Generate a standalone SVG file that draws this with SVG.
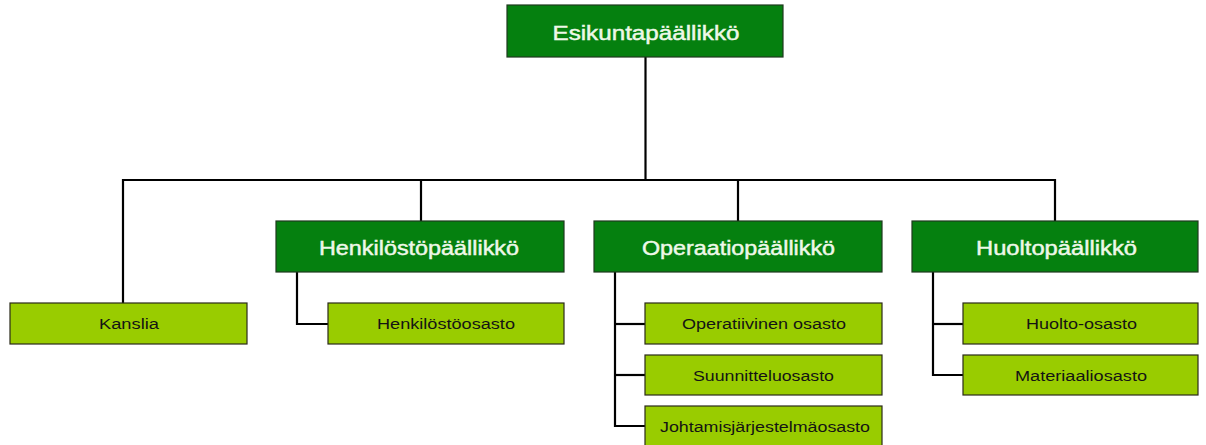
<svg xmlns="http://www.w3.org/2000/svg" width="1206" height="445" viewBox="0 0 1206 445">
  <style>
    .head rect { fill: #05800f; stroke: #1f3a1f; stroke-width: 1.2; }
    .head text { fill: #eef8e8; stroke: #eef8e8; stroke-width: 0.45; font-family: "Liberation Sans", Arial, sans-serif; font-size: 20px; text-anchor: middle; }
    .unit rect { fill: #99cc00; stroke: #2a2a1a; stroke-width: 1.2; }
    .unit text { fill: #141414; font-family: "Liberation Sans", Arial, sans-serif; font-size: 14px; text-anchor: middle; }
    #connectors path { fill: none; stroke: #000; stroke-width: 2.2; }
  </style>
  <rect width="1206" height="445" fill="#fff"/>

  <g id="connectors">
    <!-- chief to bus -->
    <path d="M645.5 57 V180"/>
    <!-- horizontal bus with drops -->
    <path d="M123 303 V180 H1055 V221"/>
    <path d="M421 180 V221"/>
    <path d="M738 180 V221"/>
    <!-- personnel branch -->
    <path d="M297 272 V324 H328"/>
    <!-- operations branch -->
    <path d="M615 272 V426 H645"/>
    <path d="M615 324 H645"/>
    <path d="M615 375 H645"/>
    <!-- logistics branch -->
    <path d="M933 272 V375 H963"/>
    <path d="M933 324 H963"/>
  </g>

  <g id="esikuntapaallikko" class="head">
    <rect x="507" y="5" width="276" height="52"/>
    <text x="646" y="39.5" textLength="187" lengthAdjust="spacingAndGlyphs">Esikuntapäällikkö</text>
  </g>

  <g id="kanslia" class="unit">
    <rect x="10" y="303" width="237" height="41"/>
    <text x="129" y="329" textLength="60" lengthAdjust="spacingAndGlyphs">Kanslia</text>
  </g>

  <g id="henkilostopaallikko" class="head">
    <rect x="276" y="221" width="288" height="51"/>
    <text x="419" y="255" textLength="200" lengthAdjust="spacingAndGlyphs">Henkilöstöpäällikkö</text>
  </g>
  <g id="henkilostoosasto" class="unit">
    <rect x="328" y="303" width="236" height="41"/>
    <text x="446" y="329" textLength="138" lengthAdjust="spacingAndGlyphs">Henkilöstöosasto</text>
  </g>

  <g id="operaatiopaallikko" class="head">
    <rect x="594" y="221" width="288" height="51"/>
    <text x="738.5" y="255" textLength="193" lengthAdjust="spacingAndGlyphs">Operaatiopäällikkö</text>
  </g>
  <g id="operatiivinen-osasto" class="unit">
    <rect x="645" y="303" width="237" height="41"/>
    <text x="764" y="329" textLength="164" lengthAdjust="spacingAndGlyphs">Operatiivinen osasto</text>
  </g>
  <g id="suunnitteluosasto" class="unit">
    <rect x="645" y="355" width="237" height="40"/>
    <text x="763.5" y="380.5" textLength="141" lengthAdjust="spacingAndGlyphs">Suunnitteluosasto</text>
  </g>
  <g id="johtamisjarjestelmaosasto" class="unit">
    <rect x="645" y="406" width="237" height="41"/>
    <text x="765" y="431.5" textLength="210" lengthAdjust="spacingAndGlyphs">Johtamisjärjestelmäosasto</text>
  </g>

  <g id="huoltopaallikko" class="head">
    <rect x="912" y="221" width="286" height="51"/>
    <text x="1056.5" y="255" textLength="161" lengthAdjust="spacingAndGlyphs">Huoltopäällikkö</text>
  </g>
  <g id="huolto-osasto" class="unit">
    <rect x="963" y="303" width="235" height="41"/>
    <text x="1081.5" y="329" textLength="111" lengthAdjust="spacingAndGlyphs">Huolto-osasto</text>
  </g>
  <g id="materiaaliosasto" class="unit">
    <rect x="963" y="355" width="235" height="40"/>
    <text x="1081" y="380.5" textLength="132" lengthAdjust="spacingAndGlyphs">Materiaaliosasto</text>
  </g>
</svg>
